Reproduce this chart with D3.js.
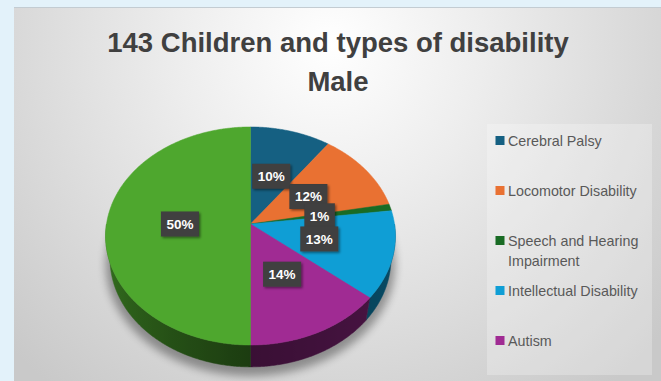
<!DOCTYPE html>
<html><head><meta charset="utf-8">
<script src="https://cdn.jsdelivr.net/npm/d3@7"></script>
<style>html,body{margin:0;padding:0;background:#e3f2fa;}svg{display:block}</style>
</head><body>
<svg id="c" width="661" height="381"></svg>
<script>
// ---- data ----
const categories = ["Cerebral Palsy","Locomotor Disability","Speech and Hearing Impairment","Intellectual Disability","Autism","Other"];
const values = [10, 12, 1, 13, 14, 50];
const colors = ["#156082","#E97132","#196B24","#0F9ED5","#A02B93","#4EA72E"];
const legendCategories = ["Cerebral Palsy","Locomotor Disability","Speech and Hearing Impairment","Intellectual Disability","Autism"];
const titleLines = ["143 Children and types of disability","Male"];

// ---- setup ----
const W = 661, H = 381;
const svg = d3.select("#c");
const defs = svg.append("defs");
const FONT = "'Liberation Sans', Arial, sans-serif";

const bg = defs.append("radialGradient").attr("id","bg").attr("gradientUnits","userSpaceOnUse")
  .attr("cx",330).attr("cy",45).attr("r",440);
bg.append("stop").attr("offset",0).attr("stop-color","#ffffff");
bg.append("stop").attr("offset",0.35).attr("stop-color","#ededed");
bg.append("stop").attr("offset",1).attr("stop-color","#c9c9c9");

const blur = defs.append("filter").attr("id","blur").attr("x","-20%").attr("y","-20%").attr("width","140%").attr("height","140%");
blur.append("feGaussianBlur").attr("stdDeviation",4);
const ds = defs.append("filter").attr("id","ds").attr("x","-30%").attr("y","-30%").attr("width","160%").attr("height","160%");
ds.append("feDropShadow").attr("dx",1.5).attr("dy",1.5).attr("stdDeviation",1.2).attr("flood-color","#000").attr("flood-opacity",0.45);

svg.append("rect").attr("width",W).attr("height",H).attr("fill","#e3f2fa");
svg.append("rect").attr("x",14).attr("y",7).attr("width",W-14).attr("height",H-7).attr("fill","url(#bg)");
svg.append("line").attr("x1",14).attr("x2",W).attr("y1",7.5).attr("y2",7.5).attr("stroke","#c3ccd2").attr("stroke-width",1);

// title
svg.append("g").selectAll("text").data(titleLines).join("text")
  .attr("x",338).attr("y",(d,i)=>52+i*39)
  .attr("text-anchor","middle").attr("font-family",FONT).attr("font-weight","bold")
  .attr("font-size","27.5px").attr("fill","#404040").text(d=>d);

// ---- 3D pie projection ----
const cx = 250.5, cy = 224, R = 144, depth = 36, Dcam = 869;
const sa = 0.748, ca = Math.sqrt(1 - sa*sa);
function P(theta, r, Y) {
  const X = r*Math.sin(theta), Z = -r*Math.cos(theta);
  const ys = Z*sa + Y*ca, w = Z*ca - Y*sa, s = Dcam/(Dcam - w);
  return [cx + X*s, cy + ys*s];
}
function arcPts(a0, a1, r, Y) {
  const n = Math.max(2, Math.ceil(Math.abs(a1-a0)/(Math.PI/360)));
  return d3.range(n+1).map(i => P(a0 + (a1-a0)*i/n, r, Y));
}
const line = d3.line();
const arcs = d3.pie().sort(null).value(d => d)(values);
const total = d3.sum(values);
const pct = v => Math.round(v/total*100) + "%";

// shadow
svg.append("path").attr("d", line(arcPts(0, 2*Math.PI, R*1.03, depth)) + "Z")
  .attr("transform","translate(0,5)").attr("fill","#000").attr("opacity",0.35).attr("filter","url(#blur)");

// walls (front half), shaded with horizontal gradients
const shade = d3.scaleLinear().domain([90,180,270]).range([0.5,0.36,0.72]);
const gWall = svg.append("g");
arcs.forEach((d,i) => {
  const a0 = Math.max(d.startAngle, Math.PI/2), a1 = Math.min(d.endAngle, 3*Math.PI/2);
  if (a1 <= a0) return;
  const base = d3.rgb(colors[i]);
  const top = arcPts(a0, a1, R, 0), bot = arcPts(a1, a0, R, depth);
  const xs = top.concat(bot).map(p => p[0]);
  const xmin = d3.min(xs), xmax = d3.max(xs);
  const gid = "wall" + i;
  const gr = defs.append("linearGradient").attr("id", gid).attr("gradientUnits","userSpaceOnUse")
    .attr("x1", xmin).attr("x2", xmax).attr("y1", 0).attr("y2", 0);
  const n = 24;
  d3.range(n+1).map(k => a0 + (a1-a0)*k/n).map(t => ({t, x: P(t, R, 0)[0]}))
    .sort((a,b) => a.x - b.x)
    .forEach(s => {
      const f = shade(s.t*180/Math.PI);
      gr.append("stop").attr("offset", xmax > xmin ? (s.x - xmin)/(xmax - xmin) : 0)
        .attr("stop-color", d3.rgb(base.r*f, base.g*f, base.b*f).formatHex());
    });
  gWall.append("path").attr("d", line(top.concat(bot)) + "Z")
    .attr("fill", `url(#${gid})`).attr("stroke", `url(#${gid})`).attr("stroke-width", 0.5);
});

// top faces
svg.append("g").selectAll("path").data(arcs).join("path")
  .attr("d", d => line([[cx,cy]].concat(arcPts(d.startAngle, d.endAngle, R, 0))) + "Z")
  .attr("fill", (d,i) => colors[i]).attr("stroke", (d,i) => colors[i]).attr("stroke-width", 0.5);

// data labels
const gl = svg.append("g").selectAll("g").data(arcs).join("g")
  .attr("transform", d => { const p = P((d.startAngle+d.endAngle)/2, R*0.49, 0); return `translate(${p[0]},${p[1]})`; });
gl.append("rect").attr("fill","#3f3f3f").attr("filter","url(#ds)");
gl.append("text").attr("text-anchor","middle").attr("dy","0.36em")
  .attr("font-family",FONT).attr("font-weight","bold").attr("font-size","13.5px").attr("fill","#ffffff")
  .text(d => pct(d.value));
gl.each(function() {
  const g = d3.select(this);
  const w = g.select("text").node().getComputedTextLength() + 11;
  g.select("rect").attr("x", -w/2).attr("y", -12.5).attr("width", w).attr("height", 25);
});

// ---- legend ----
svg.append("rect").attr("x",487).attr("y",124).attr("width",165).attr("height",251)
  .attr("fill","#ffffff").attr("opacity",0.25);
const ly = d3.scalePoint().domain(legendCategories).range([140.5, 340.5]);
const li = svg.append("g").selectAll("g").data(legendCategories).join("g")
  .attr("transform", d => `translate(495.5,${ly(d)})`);
li.append("rect").attr("x",0).attr("y",-4.5).attr("width",9).attr("height",9)
  .attr("fill", d => colors[categories.indexOf(d)]);
li.append("text").attr("x",12.5).attr("font-family",FONT)
  .attr("font-size","14.3px").attr("fill","#595959")
  .each(function(d) {
    const t = d3.select(this);
    const words = d.split(" ");
    let lineWords = [];
    let ts = t.append("tspan").attr("x",12.5).attr("dy","0.36em");
    words.forEach(wd => {
      lineWords.push(wd);
      ts.text(lineWords.join(" "));
      if (ts.node().getComputedTextLength() > 140 && lineWords.length > 1) {
        lineWords.pop(); ts.text(lineWords.join(" "));
        lineWords = [wd];
        ts = t.append("tspan").attr("x",12.5).attr("dy","20px").text(wd);
      }
    });
  });
</script>
</body></html>
